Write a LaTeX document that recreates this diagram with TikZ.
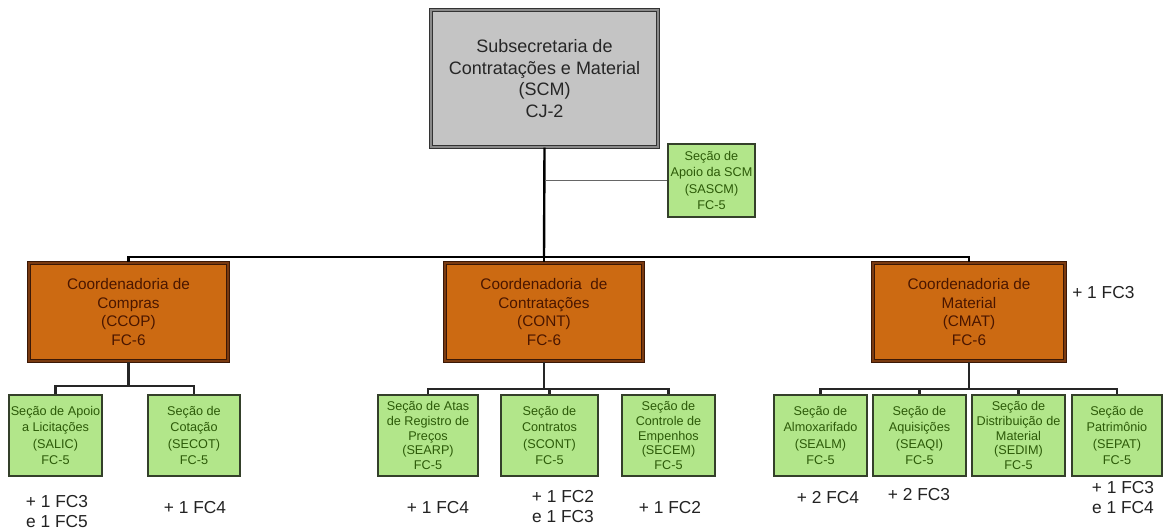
\documentclass[tikz,border=0pt]{standalone}
\usepackage{fontspec}
\setmainfont{Liberation Sans}
\definecolor{topfill}{HTML}{C4C4C4}
\definecolor{topline}{HTML}{333333}
\definecolor{topmid}{HTML}{8A8A8A}
\definecolor{coordfill}{HTML}{CC6A12}
\definecolor{coordline}{HTML}{3B1806}
\definecolor{coordmid}{HTML}{7A3A10}
\definecolor{coordtext}{HTML}{4A1600}
\definecolor{secfill}{HTML}{B2E68A}
\definecolor{secline}{HTML}{34402A}
\definecolor{sectext}{HTML}{2C5A08}
\definecolor{notetext}{HTML}{222222}
\tikzset{
  topbox/.style={draw=topline, double=topmid, line width=1.1pt, double distance=0.9pt, fill=topfill,
    minimum width=227*0.75pt, minimum height=137*0.75pt,
    align=center, inner sep=0pt, font=\fontsize{13.5}{16.3}\selectfont, text=black!85},
  coordbox/.style={draw=coordline, double=coordmid, line width=1.1pt, double distance=0.9pt, fill=coordfill,
    minimum height=98*0.75pt,
    align=center, inner sep=0pt, font=\fontsize{11.5}{14}\selectfont, text=coordtext},
  secbox/.style={draw=secline, line width=1.3pt, fill=secfill, minimum height=81*0.75pt,
    align=center, inner sep=0pt, font=\fontsize{9.5}{12.3}\selectfont, text=sectext},
  tightsec/.style={secbox, font=\fontsize{9.5}{11}\selectfont},
  note/.style={align=center, inner sep=0pt, text=notetext, font=\fontsize{13}{15}\selectfont},
  link/.style={draw=black, line width=1.8pt},
  sublink/.style={draw=black!85, line width=1.6pt},
  thinlink/.style={draw=black!60, line width=1.1pt}
}
\begin{document}
\begin{tikzpicture}[x=0.75pt, y=-0.75pt]
\useasboundingbox (0,0) rectangle (1163,531);

% head of the unit
\node[topbox] (scm) at (544.5,78.5) {Subsecretaria de\\Contratações e Material\\(SCM)\\CJ-2};

% staff section
\node[secbox, minimum width=87*0.75pt, minimum height=73*0.75pt] (sascm) at (711.5,180.5)
  {Seção de\\Apoio da SCM\\(SASCM)\\FC-5};

% coordinations
\node[coordbox, minimum width=199*0.75pt] (ccop) at (128.5,312) {Coordenadoria de\\Compras\\(CCOP)\\FC-6};
\node[coordbox, minimum width=198*0.75pt] (cont) at (544,312) {Coordenadoria\ \ de\\Contratações\\(CONT)\\FC-6};
\node[coordbox, minimum width=192*0.75pt] (cmat) at (969,312) {Coordenadoria de\\Material\\(CMAT)\\FC-6};

% sections under CCOP
\node[secbox, minimum width=93*0.75pt] (salic) at (55.5,435.5) {Seção de Apoio\\a Licitações\\(SALIC)\\FC-5};
\node[secbox, minimum width=92*0.75pt] (secot) at (194,435.5) {Seção de\\Cotação\\(SECOT)\\FC-5};

% sections under CONT
\node[tightsec, minimum width=100*0.75pt] (searp) at (428,435.5) {Seção de Atas\\de Registro de\\Preços\\(SEARP)\\FC-5};
\node[secbox, minimum width=97*0.75pt] (scont) at (549.5,435.5) {Seção de\\Contratos\\(SCONT)\\FC-5};
\node[tightsec, minimum width=93*0.75pt] (secem) at (668.5,435.5) {Seção de\\Controle de\\Empenhos\\(SECEM)\\FC-5};

% sections under CMAT
\node[secbox, minimum width=93*0.75pt] (sealm) at (820.5,435.5) {Seção de\\Almoxarifado\\(SEALM)\\FC-5};
\node[secbox, minimum width=93*0.75pt] (seaqi) at (919.5,435.5) {Seção de\\Aquisições\\(SEAQI)\\FC-5};
\node[tightsec, minimum width=93*0.75pt] (sedim) at (1018.5,435.5) {Seção de\\Distribuição de\\Material\\(SEDIM)\\FC-5};
\node[secbox, minimum width=90*0.75pt] (sepat) at (1117,435.5) {Seção de\\Patrimônio\\(SEPAT)\\FC-5};

% extra commissioned functions
\node[note, anchor=west] (ncmat) at (1072,293) {+ 1 FC3};
\node[note] (nsalic) at (57,512) {+ 1 FC3\\e 1 FC5};
\node[note] (nsecot) at (195,508) {+ 1 FC4};
\node[note] (nsearp) at (438,508) {+ 1 FC4};
\node[note] (nscont) at (563,507) {+ 1 FC2\\e 1 FC3};
\node[note] (nsecem) at (670,508) {+ 1 FC2};
\node[note] (nsealm) at (828,498) {+ 2 FC4};
\node[note] (nseaqi) at (919,495) {+ 2 FC3};
\node[note] (nsepat) at (1123,498) {+ 1 FC3\\e 1 FC4};

% bus points
\coordinate (hub) at (544,257);
\coordinate (ccopbus) at (128.5,386);
\coordinate (contbus) at (544,389);
\coordinate (cmatbus) at (969,389);

% main trunk
\draw[link] (scm.south) -- (hub);
\draw[link] (hub) -| (ccop.north);
\draw[link] (hub) -| (cmat.north);
\draw[link] (hub) -- (cont.north);
\draw[thinlink] (sascm.west) -- (sascm.west -| scm.south);

% CCOP branch
\draw[sublink] (ccop.south) -- (ccopbus);
\draw[sublink] (ccopbus) -| (salic.north);
\draw[sublink] (ccopbus) -| (secot.north);

% CONT branch
\draw[sublink] (cont.south) -- (contbus);
\draw[sublink] (contbus) -| (searp.north);
\draw[sublink] (contbus) -| (scont.north);
\draw[sublink] (contbus) -| (secem.north);

% CMAT branch
\draw[sublink] (cmat.south) -- (cmatbus);
\draw[sublink] (cmatbus) -| (sealm.north);
\draw[sublink] (cmatbus) -| (seaqi.north);
\draw[sublink] (cmatbus) -| (sedim.north);
\draw[sublink] (cmatbus) -| (sepat.north);
\end{tikzpicture}
\end{document}
